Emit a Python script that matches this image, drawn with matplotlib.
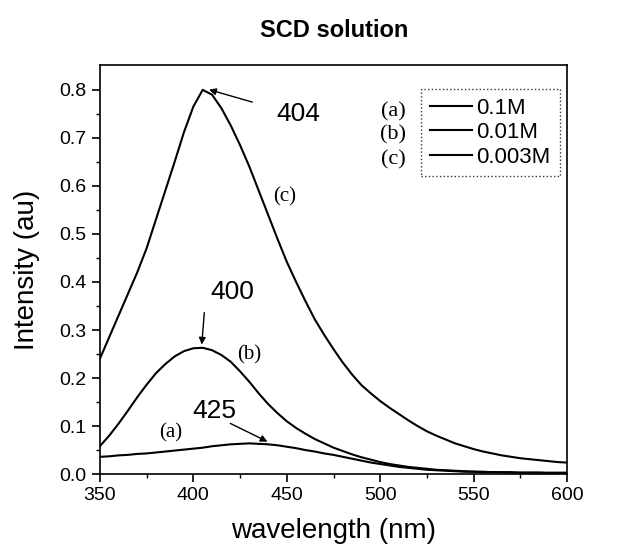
"""Emission spectra of SCD solution at three concentrations."""

import matplotlib
matplotlib.use('Agg')
import matplotlib.pyplot as plt

# wavelength grid (nm) and intensity values
wavelength = [350, 355, 360, 365, 370, 375, 380, 385, 390, 395, 400, 405, 410, 415, 420,
              425, 430, 435, 440, 445, 450, 455, 460, 465, 470, 475, 480, 485, 490, 495,
              500, 505, 510, 515, 520, 525, 530, 535, 540, 545, 550, 555, 560, 565, 570,
              575, 580, 585, 590, 595, 600]
int_a = [0.036, 0.037, 0.039, 0.040, 0.042, 0.043, 0.045, 0.047, 0.049, 0.051, 0.053, 0.055,
         0.058, 0.060, 0.062, 0.063, 0.064, 0.063, 0.062, 0.060, 0.057, 0.054, 0.050, 0.047,
         0.043, 0.040, 0.036, 0.032, 0.028, 0.024, 0.021, 0.018, 0.015, 0.013, 0.011, 0.009,
         0.008, 0.007, 0.006, 0.005, 0.005, 0.004, 0.004, 0.004, 0.004, 0.003, 0.003, 0.003,
         0.003, 0.003, 0.003]
int_b = [0.058, 0.080, 0.105, 0.132, 0.160, 0.186, 0.210, 0.229, 0.245, 0.256, 0.262, 0.263,
         0.258, 0.248, 0.234, 0.214, 0.192, 0.168, 0.146, 0.127, 0.110, 0.096, 0.084, 0.073,
         0.064, 0.055, 0.048, 0.041, 0.035, 0.030, 0.025, 0.021, 0.018, 0.015, 0.013, 0.011,
         0.009, 0.008, 0.007, 0.006, 0.005, 0.005, 0.004, 0.004, 0.003, 0.003, 0.003, 0.003,
         0.002, 0.002, 0.002]
int_c = [0.240, 0.285, 0.330, 0.375, 0.420, 0.470, 0.530, 0.590, 0.650, 0.712, 0.765, 0.800,
         0.790, 0.762, 0.726, 0.685, 0.640, 0.590, 0.540, 0.490, 0.442, 0.400, 0.360, 0.322,
         0.290, 0.260, 0.232, 0.207, 0.185, 0.168, 0.152, 0.138, 0.125, 0.112, 0.100, 0.089,
         0.080, 0.072, 0.064, 0.058, 0.052, 0.047, 0.043, 0.039, 0.036, 0.033, 0.031, 0.029,
         0.027, 0.025, 0.024]
conc_labels = ['0.1M', '0.01M', '0.003M']
curve_tags = ['(a)', '(b)', '(c)']

plt.rcParams['font.family'] = ['Liberation Sans', 'DejaVu Sans']

fig = plt.figure(figsize=(6.24, 5.5), dpi=100)
ax = fig.add_axes([0.160, 0.138, 0.749, 0.744])

lines = []
for y in (int_a, int_b, int_c):
    ln, = ax.plot(wavelength, y, color='black', lw=1.5)
    lines.append(ln)

ax.set_xlim(350, 600)
ax.set_ylim(0, 0.852)
ax.set_xticks([350, 400, 450, 500, 550, 600])
ax.set_xticks([375, 425, 475, 525, 575], minor=True)
ax.set_yticks([0.0, 0.1, 0.2, 0.3, 0.4, 0.5, 0.6, 0.7, 0.8])
ax.set_yticks([0.05, 0.15, 0.25, 0.35, 0.45, 0.55, 0.65, 0.75], minor=True)
ax.set_yticklabels(['0.0', '0.1', '0.2', '0.3', '0.4', '0.5', '0.6', '0.7', '0.8'])
ax.tick_params(which='major', direction='out', length=6, width=1.2, labelsize=14)
ax.tick_params(which='minor', direction='out', length=3, width=1)
for s in ax.spines.values():
    s.set_linewidth(1.2)

ax.set_xlabel('wavelength (nm)', fontsize=20)
ax.set_ylabel('Intensity (au)', fontsize=20)
ax.xaxis.set_label_coords(0.5, -0.108)
ax.yaxis.set_label_coords(-0.128, 0.5)

fig.text(0.535, 0.945, 'SCD solution', fontsize=17, fontweight='bold', ha='center', va='center')

# peak annotations
arrow = dict(arrowstyle='-|>', color='black', lw=1, mutation_scale=10)
ax.annotate('', xy=(407, 0.802), xytext=(433, 0.773), arrowprops=arrow)
ax.text(456, 0.75, '404', fontsize=19, ha='center', va='center')
ax.annotate('', xy=(404.4, 0.264), xytext=(406, 0.342), arrowprops=arrow)
ax.text(421, 0.379, '400', fontsize=19, ha='center', va='center')
ax.annotate('', xy=(441, 0.065), xytext=(418.5, 0.108), arrowprops=arrow)
ax.text(411, 0.131, '425', fontsize=19, ha='center', va='center')

serif = ['Liberation Serif', 'DejaVu Serif']
ax.text(449, 0.577, curve_tags[2], fontsize=15, family=serif, ha='center', va='center')
ax.text(430, 0.248, curve_tags[1], fontsize=15, family=serif, ha='center', va='center')
ax.text(388, 0.085, curve_tags[0], fontsize=15, family=serif, ha='center', va='center')

leg = ax.legend(lines, conc_labels, loc='upper left', bbox_to_anchor=(0.687, 0.941),
                borderaxespad=0, fontsize=16, frameon=True, fancybox=False,
                handlelength=1.9, handletextpad=0.2, labelspacing=0.15,
                borderpad=0.4)
frame = leg.get_frame()
frame.set_edgecolor('black')
frame.set_linestyle(':')
frame.set_linewidth(1)

for tag, yy in zip(curve_tags, (0.885, 0.828, 0.768)):
    ax.text(0.627, yy, tag, transform=ax.transAxes, fontsize=16, family=serif,
            ha='center', va='center')

fig.savefig('out.png', dpi=100)
